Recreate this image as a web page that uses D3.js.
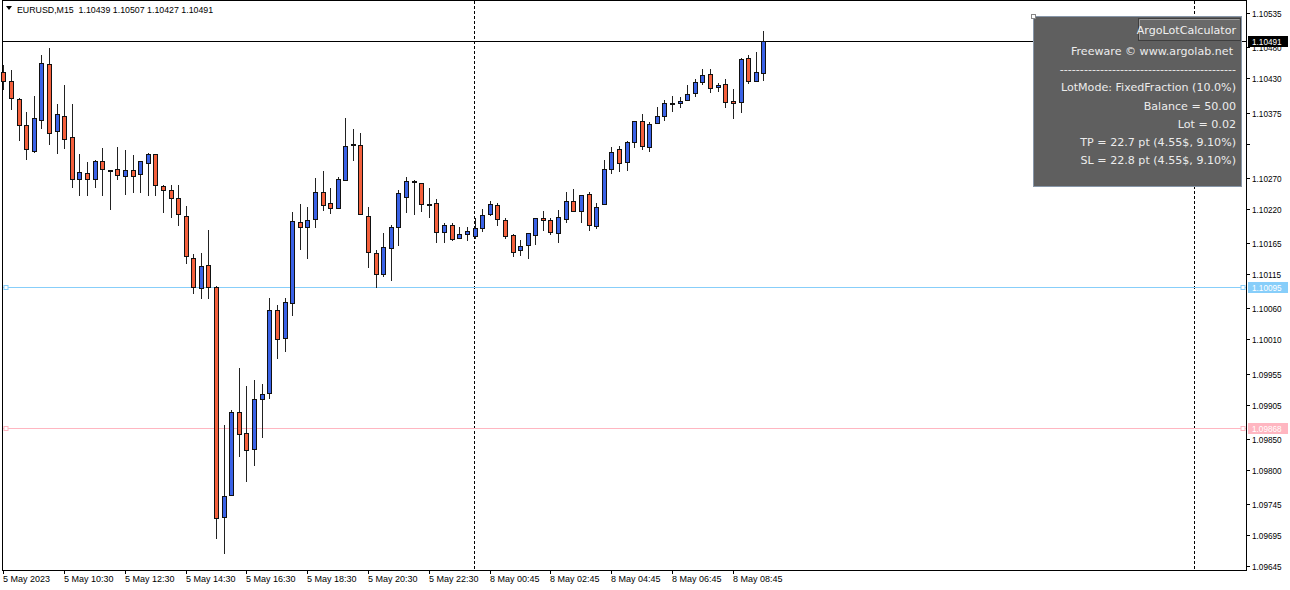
<!DOCTYPE html>
<html>
<head>
<meta charset="utf-8">
<script src="https://cdn.jsdelivr.net/npm/d3@7"></script>
<style>
  body { margin: 0; background: #fff; }
  svg text { font-family: "DejaVu Sans", Tahoma, sans-serif; white-space: pre; }
  svg text.ax { font-family: "Liberation Sans", Arial, sans-serif; }
</style>
</head>
<body>
<svg id="chart" width="1290" height="590"></svg>
<script>
// EURUSD M15, 5 May 08:30 .. 8 May 09:45 (one bar per 15 min)
const symbolTitle = "EURUSD,M15  1.10439 1.10507 1.10427 1.10491";

const opens = [
  1.10440, 1.10426, 1.10397, 1.10355, 1.10313, 1.10363, 1.10453, 1.10345, 1.10369, 1.10335,
  1.10268, 1.10278, 1.10268, 1.10297, 1.10282, 1.10284, 1.10273, 1.10282, 1.10276, 1.10294,
  1.10308, 1.10257, 1.10250, 1.10237, 1.10208, 1.10141, 1.10092, 1.10129, 1.10094, 1.09724,
  1.09759, 1.09893, 1.09859, 1.09833, 1.09914, 1.09923, 1.10057, 1.10012, 1.10068, 1.10199,
  1.10191, 1.10203, 1.10247, 1.10229, 1.10221, 1.10266, 1.10323, 1.10323, 1.10208, 1.10149,
  1.10115, 1.10158, 1.10191, 1.10239, 1.10265, 1.10261, 1.10228, 1.10229, 1.10182, 1.10194,
  1.10173, 1.10179, 1.10176, 1.10189, 1.10212, 1.10226, 1.10202, 1.10178, 1.10154, 1.10162,
  1.10178, 1.10205, 1.10202, 1.10182, 1.10203, 1.10232, 1.10216, 1.10244, 1.10192, 1.10228,
  1.10284, 1.10316, 1.10295, 1.10327, 1.10361, 1.10319, 1.10358, 1.10369, 1.10390, 1.10390,
  1.10395, 1.10406, 1.10424, 1.10437, 1.10416, 1.10421, 1.10393, 1.10392, 1.10463, 1.10426,
  1.10439
];
const highs = [
  1.10451, 1.10443, 1.10398, 1.10376, 1.10401, 1.10467, 1.10479, 1.10389, 1.10419, 1.10389,
  1.10308, 1.10295, 1.10298, 1.10318, 1.10283, 1.10319, 1.10315, 1.10306, 1.10297, 1.10310,
  1.10309, 1.10258, 1.10258, 1.10258, 1.10224, 1.10147, 1.10149, 1.10186, 1.10096, 1.09873,
  1.09896, 1.09964, 1.09935, 1.09944, 1.09938, 1.10076, 1.10065, 1.10076, 1.10215, 1.10228,
  1.10223, 1.10269, 1.10281, 1.10253, 1.10271, 1.10366, 1.10348, 1.10343, 1.10223, 1.10154,
  1.10181, 1.10194, 1.10250, 1.10271, 1.10266, 1.10262, 1.10253, 1.10236, 1.10197, 1.10197,
  1.10191, 1.10191, 1.10205, 1.10220, 1.10232, 1.10229, 1.10205, 1.10179, 1.10170, 1.10182,
  1.10205, 1.10216, 1.10205, 1.10218, 1.10248, 1.10252, 1.10242, 1.10247, 1.10229, 1.10298,
  1.10319, 1.10321, 1.10329, 1.10361, 1.10372, 1.10360, 1.10384, 1.10395, 1.10401, 1.10400,
  1.10419, 1.10429, 1.10445, 1.10445, 1.10422, 1.10429, 1.10413, 1.10463, 1.10467, 1.10472,
  1.10507
];
const lows = [
  1.10413, 1.10381, 1.10331, 1.10300, 1.10311, 1.10350, 1.10324, 1.10310, 1.10318, 1.10255,
  1.10242, 1.10242, 1.10255, 1.10242, 1.10220, 1.10268, 1.10244, 1.10247, 1.10247, 1.10242,
  1.10242, 1.10215, 1.10207, 1.10194, 1.10133, 1.10084, 1.10076, 1.10076, 1.09690, 1.09666,
  1.09759, 1.09822, 1.09783, 1.09808, 1.09853, 1.09915, 1.09980, 1.09991, 1.10049, 1.10155,
  1.10141, 1.10191, 1.10218, 1.10213, 1.10221, 1.10266, 1.10298, 1.10212, 1.10126, 1.10094,
  1.10112, 1.10105, 1.10162, 1.10215, 1.10212, 1.10216, 1.10207, 1.10166, 1.10166, 1.10170,
  1.10173, 1.10170, 1.10173, 1.10184, 1.10210, 1.10194, 1.10173, 1.10144, 1.10146, 1.10141,
  1.10163, 1.10186, 1.10179, 1.10166, 1.10199, 1.10216, 1.10199, 1.10186, 1.10189, 1.10228,
  1.10278, 1.10281, 1.10282, 1.10319, 1.10316, 1.10313, 1.10358, 1.10363, 1.10377, 1.10384,
  1.10395, 1.10401, 1.10421, 1.10408, 1.10409, 1.10384, 1.10366, 1.10376, 1.10422, 1.10426,
  1.10427
];
const closes = [
  1.10426, 1.10398, 1.10355, 1.10316, 1.10366, 1.10455, 1.10342, 1.10372, 1.10332, 1.10268,
  1.10279, 1.10268, 1.10297, 1.10284, 1.10281, 1.10274, 1.10282, 1.10273, 1.10297, 1.10308,
  1.10258, 1.10250, 1.10237, 1.10212, 1.10144, 1.10094, 1.10128, 1.10094, 1.09722, 1.09758,
  1.09893, 1.09857, 1.09832, 1.09914, 1.09922, 1.10057, 1.10010, 1.10070, 1.10200, 1.10191,
  1.10203, 1.10247, 1.10226, 1.10221, 1.10268, 1.10321, 1.10324, 1.10212, 1.10150, 1.10115,
  1.10158, 1.10191, 1.10245, 1.10265, 1.10263, 1.10228, 1.10227, 1.10182, 1.10194, 1.10171,
  1.10179, 1.10184, 1.10189, 1.10210, 1.10228, 1.10203, 1.10176, 1.10150, 1.10160, 1.10182,
  1.10205, 1.10202, 1.10182, 1.10207, 1.10232, 1.10216, 1.10242, 1.10194, 1.10223, 1.10284,
  1.10311, 1.10294, 1.10327, 1.10361, 1.10321, 1.10356, 1.10369, 1.10390, 1.10391, 1.10393,
  1.10405, 1.10424, 1.10435, 1.10414, 1.10419, 1.10392, 1.10390, 1.10461, 1.10426, 1.10440,
  1.10491
];

// bottom axis: a label every 8 bars
const timeTickBars = [0, 8, 16, 24, 32, 40, 48, 56, 64, 72, 80, 88, 96];
const timeLabels = ["5 May 2023", "5 May 10:30", "5 May 12:30", "5 May 14:30", "5 May 16:30",
  "5 May 18:30", "5 May 20:30", "5 May 22:30", "8 May 00:45", "8 May 02:45", "8 May 04:45",
  "8 May 06:45", "8 May 08:45"];

const priceTicks = [1.10535, 1.10480, 1.10430, 1.10375, 1.10325, 1.10270, 1.10220, 1.10165, 1.10115,
  1.10060, 1.10010, 1.09955, 1.09905, 1.09850, 1.09800, 1.09745, 1.09695, 1.09645];
const priceLabels = ["1.10535", "1.10480", "1.10430", "1.10375", "", "1.10270", "1.10220", "1.10165",
  "1.10115", "1.10060", "1.10010", "1.09955", "1.09905", "1.09850", "1.09800", "1.09745", "1.09695", "1.09645"];

const daySeparatorBars = [61.9, 156.7];
const bidPrice = 1.10491;
const levelPrices = [1.10095, 1.09868];
const levelColors = ["#87cefa", "#ffb6c1"];

const panelTitle = "ArgoLotCalculator";
const panelLines = [
  "Freeware \u00a9 www.argolab.net",
  "--------------------------------------------",
  "LotMode: FixedFraction (10.0%)",
  "Balance = 50.00",
  "Lot = 0.02",
  "TP = 22.7 pt (4.55$, 9.10%)",
  "SL = 22.8 pt (4.55$, 9.10%)"
];

const bullColor = "#3a62e6";
const bearColor = "#f4603c";

const svg = d3.select("#chart");
const plot = {left: 2, top: 0, right: 1246, bottom: 570};

const x = d3.scaleLinear().domain([0, 163]).range([3.3, 3.3 + 163 * 7.6]);
const y = d3.scaleLinear().domain([1.09639, 1.10553]).range([plot.bottom, 2]);
const crisp = v => Math.round(v) + 0.5;

const bars = opens.map((o, i) => ({i: i, o: o, h: highs[i], l: lows[i], c: closes[i]}));

// frame
svg.append("rect")
  .attr("x", plot.left + 0.5).attr("y", plot.top + 0.5)
  .attr("width", plot.right - plot.left).attr("height", plot.bottom - plot.top)
  .attr("fill", "#fff").attr("stroke", "#000");

// day separators
svg.selectAll(".sep").data(daySeparatorBars).enter().append("line")
  .attr("class", "sep")
  .attr("x1", d => crisp(x(d))).attr("x2", d => crisp(x(d)))
  .attr("y1", plot.top + 1).attr("y2", plot.bottom)
  .attr("stroke", "#000").attr("stroke-dasharray", "3,2");

// TP / SL levels
levelPrices.forEach((p, k) => {
  let yy = crisp(y(p));
  svg.append("line").attr("x1", plot.left + 1).attr("x2", plot.right)
    .attr("y1", yy).attr("y2", yy).attr("stroke", levelColors[k]);
  [plot.left + 3.5, plot.right - 3.5].forEach(hx => {
    svg.append("rect").attr("x", hx - 1.5).attr("y", yy - 2).attr("width", 4).attr("height", 4)
      .attr("fill", "#fff").attr("stroke", levelColors[k]);
  });
});

// bid line
svg.append("line").attr("x1", plot.left + 1).attr("x2", plot.right)
  .attr("y1", crisp(y(bidPrice))).attr("y2", crisp(y(bidPrice))).attr("stroke", "#000");

// candles
let candle = svg.append("g").selectAll("g").data(bars).enter().append("g");
candle.append("line")
  .attr("x1", d => Math.round(x(d.i)) + 0.5).attr("x2", d => Math.round(x(d.i)) + 0.5)
  .attr("y1", d => Math.round(y(d.h))).attr("y2", d => Math.round(y(d.l)) + 1)
  .attr("stroke", "#222");
candle.append("rect")
  .attr("x", d => Math.round(x(d.i)) - 1.5)
  .attr("y", d => crisp(y(Math.max(d.o, d.c))))
  .attr("width", 4)
  .attr("height", d => Math.max(1, Math.round(Math.abs(y(d.o) - y(d.c)))))
  .attr("fill", d => d.c >= d.o ? bullColor : bearColor)
  .attr("stroke", "#111");

// price axis
let yAxis = svg.append("g");
priceTicks.forEach((p, k) => {
  let yy = crisp(y(p));
  yAxis.append("line").attr("x1", plot.right).attr("x2", plot.right + 4)
    .attr("y1", yy).attr("y2", yy).attr("stroke", "#000");
  yAxis.append("text").attr("class", "ax").attr("x", plot.right + 6).attr("y", yy + 3)
    .attr("font-size", "8.2px").attr("fill", "#000").text(priceLabels[k]);
});

// price tags on the axis
function priceTag(p, bg) {
  let yy = crisp(y(p));
  svg.append("rect").attr("x", plot.right + 2).attr("y", yy - 5.5).attr("width", 40).attr("height", 11)
    .attr("fill", bg);
  svg.append("text").attr("class", "ax").attr("x", plot.right + 6).attr("y", yy + 3)
    .attr("font-size", "8.2px").attr("fill", "#fff").text(d3.format(".5f")(p));
}
priceTag(bidPrice, "#000");
levelPrices.forEach((p, k) => priceTag(p, levelColors[k]));

// time axis
let xAxis = svg.append("g");
timeTickBars.forEach((b, k) => {
  let xx = crisp(x(b));
  xAxis.append("line").attr("x1", xx).attr("x2", xx)
    .attr("y1", plot.bottom).attr("y2", plot.bottom + 4).attr("stroke", "#000");
  xAxis.append("text").attr("class", "ax").attr("x", xx - 0.5).attr("y", plot.bottom + 12)
    .attr("font-size", "9px").attr("fill", "#000").text(timeLabels[k]);
});

// header
svg.append("path").attr("d", "M6,6 L12,6 L9,10 Z").attr("fill", "#000");
svg.append("text").attr("class", "ax").attr("x", 17).attr("y", 13).attr("font-size", "8.8px").attr("fill", "#000")
  .text(symbolTitle);

// ArgoLotCalculator panel
let panel = svg.append("g");
panel.append("rect").attr("x", 1033.5).attr("y", 16.5).attr("width", 208).attr("height", 170)
  .attr("fill", "#5f5f5f").attr("stroke", "#8796a8");
panel.append("rect").attr("x", 1031.5).attr("y", 14.5).attr("width", 4).attr("height", 4)
  .attr("fill", "#fff").attr("stroke", "#888");
panel.append("rect").attr("x", 1138.5).attr("y", 18.5).attr("width", 102).attr("height", 22)
  .attr("fill", "#696969").attr("stroke", "#3e3e3e");
panel.append("path").attr("d", "M1139.5,39.5 V19.5 H1239.5").attr("fill", "none").attr("stroke", "#9a9a9a");
panel.append("text").attr("x", 1236).attr("y", 34).attr("text-anchor", "end")
  .attr("font-size", "11.1px").attr("fill", "#f0f0f0").text(panelTitle);
panel.selectAll(".ln").data(panelLines).enter().append("text")
  .attr("class", "ln")
  .attr("x", (d, i) => i === 0 ? 1233 : 1236)
  .attr("y", (d, i) => 55 + i * 18.2)
  .attr("text-anchor", "end")
  .attr("font-size", "11.1px").attr("fill", "#ececec")
  .text(d => d);
</script>
</body>
</html>
